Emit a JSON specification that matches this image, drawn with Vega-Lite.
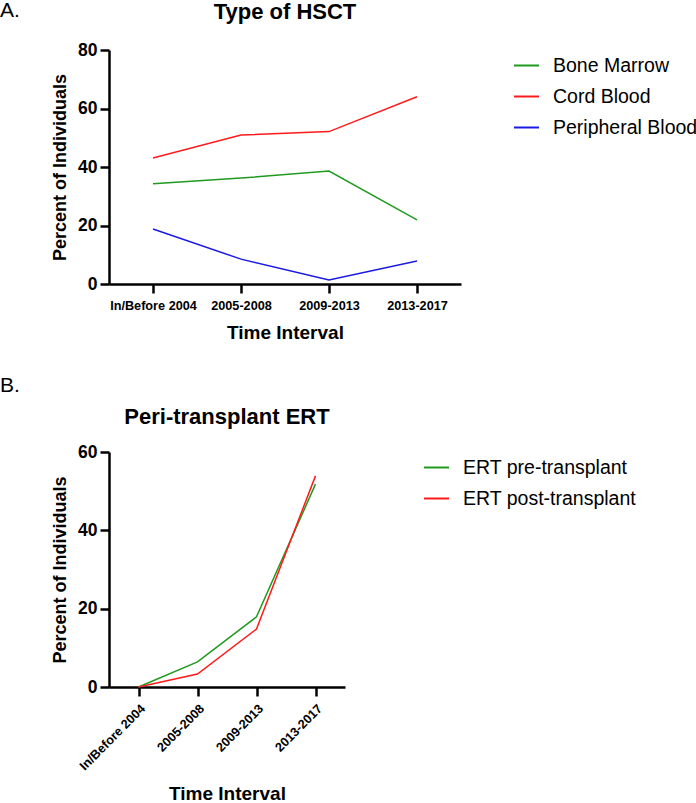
{
  "$schema": "https://vega.github.io/schema/vega-lite/v6.json",
  "padding": {"left": 0, "top": 0, "right": 0, "bottom": 0},
  "spacing": 32,
  "config": {
    "font": "Liberation Sans",
    "view": {"stroke": null},
    "axis": {
      "grid": false,
      "domainColor": "black",
      "domainWidth": 2.5,
      "tickColor": "black",
      "tickWidth": 2.5,
      "tickSize": 9,
      "labelFont": "Liberation Sans",
      "labelFontWeight": "bold",
      "labelColor": "black",
      "titleFont": "Liberation Sans",
      "titleFontWeight": "bold",
      "titleFontSize": 19,
      "titleColor": "black"
    },
    "axisY": {"labelFontSize": 17.5, "labelPadding": 3, "titlePadding": 8, "titleFontSize": 18},
    "axisX": {"labelFontSize": 12.7, "labelPadding": 6},
    "legend": {
      "orient": "none",
      "padding": 0,
      "labelFont": "Liberation Sans",
      "labelFontSize": 19.5,
      "labelColor": "black",
      "labelLimit": 400,
      "symbolType": "stroke",
      "symbolSize": 625,
      "symbolStrokeWidth": 2,
      "labelOffset": 13,
      "rowPadding": 8,
      "title": null
    },
    "title": {"font": "Liberation Sans", "fontSize": 22, "fontWeight": "bold", "color": "black"}
  },
  "vconcat": [
    {
      "title": {"text": "A.", "anchor": "start", "frame": "group", "fontWeight": "normal", "fontSize": 21, "dx": -109, "dy": 24},
      "vconcat": [
        {
          "width": 352,
          "height": 234,
          "title": {"text": "Type of HSCT", "offset": 17},
          "data": {
            "values": [
              {"interval": "In/Before 2004", "type": "Bone Marrow", "percent": 34.3},
              {"interval": "2005-2008", "type": "Bone Marrow", "percent": 36.2},
              {"interval": "2009-2013", "type": "Bone Marrow", "percent": 38.6},
              {"interval": "2013-2017", "type": "Bone Marrow", "percent": 21.9},
              {"interval": "In/Before 2004", "type": "Cord Blood", "percent": 43.1},
              {"interval": "2005-2008", "type": "Cord Blood", "percent": 50.9},
              {"interval": "2009-2013", "type": "Cord Blood", "percent": 52.1},
              {"interval": "2013-2017", "type": "Cord Blood", "percent": 64.0},
              {"interval": "In/Before 2004", "type": "Peripheral Blood", "percent": 18.8},
              {"interval": "2005-2008", "type": "Peripheral Blood", "percent": 8.5},
              {"interval": "2009-2013", "type": "Peripheral Blood", "percent": 1.4},
              {"interval": "2013-2017", "type": "Peripheral Blood", "percent": 7.9}
            ]
          },
          "mark": {"type": "line", "strokeWidth": 1.5},
          "encoding": {
            "x": {
              "field": "interval",
              "type": "ordinal",
              "sort": ["In/Before 2004", "2005-2008", "2009-2013", "2013-2017"],
              "scale": {"type": "point", "padding": 0.5},
              "axis": {"title": "Time Interval", "labelAngle": 0, "titlePadding": 12}
            },
            "y": {
              "field": "percent",
              "type": "quantitative",
              "scale": {"domain": [0, 80]},
              "axis": {"values": [0, 20, 40, 60, 80], "title": "Percent of Individuals"}
            },
            "color": {
              "field": "type",
              "type": "nominal",
              "scale": {"domain": ["Bone Marrow", "Cord Blood", "Peripheral Blood"], "range": ["#1f9a1f", "#ff1a1a", "#1a1ae6"]},
              "legend": {"legendX": 404, "legendY": 2}
            }
          }
        }
      ]
    },
    {
      "title": {"text": "B.", "anchor": "start", "frame": "group", "fontWeight": "normal", "fontSize": 21, "dx": -109, "offset": 10},
      "vconcat": [
        {
          "width": 236,
          "height": 235,
          "title": {"text": "Peri-transplant ERT", "offset": 14},
          "data": {
            "values": [
              {"interval": "In/Before 2004", "type": "ERT pre-transplant", "percent": 0},
              {"interval": "2005-2008", "type": "ERT pre-transplant", "percent": 6.4},
              {"interval": "2009-2013", "type": "ERT pre-transplant", "percent": 17.9},
              {"interval": "2013-2017", "type": "ERT pre-transplant", "percent": 51.8},
              {"interval": "In/Before 2004", "type": "ERT post-transplant", "percent": 0},
              {"interval": "2005-2008", "type": "ERT post-transplant", "percent": 3.3},
              {"interval": "2009-2013", "type": "ERT post-transplant", "percent": 14.8},
              {"interval": "2013-2017", "type": "ERT post-transplant", "percent": 53.9}
            ]
          },
          "mark": {"type": "line", "strokeWidth": 1.5},
          "encoding": {
            "x": {
              "field": "interval",
              "type": "ordinal",
              "sort": ["In/Before 2004", "2005-2008", "2009-2013", "2013-2017"],
              "scale": {"type": "point", "padding": 0.5},
              "axis": {"title": "Time Interval", "labelAngle": -45, "titlePadding": 12}
            },
            "y": {
              "field": "percent",
              "type": "quantitative",
              "scale": {"domain": [0, 60]},
              "axis": {"values": [0, 20, 40, 60], "title": "Percent of Individuals"}
            },
            "color": {
              "field": "type",
              "type": "nominal",
              "sort": ["ERT pre-transplant", "ERT post-transplant"],
              "scale": {"domain": ["ERT pre-transplant", "ERT post-transplant"], "range": ["#1f9a1f", "#ff1a1a"]},
              "legend": {"legendX": 314, "legendY": 2}
            }
          }
        }
      ]
    }
  ],
  "resolve": {"scale": {"color": "independent"}, "legend": {"color": "independent"}}
}
